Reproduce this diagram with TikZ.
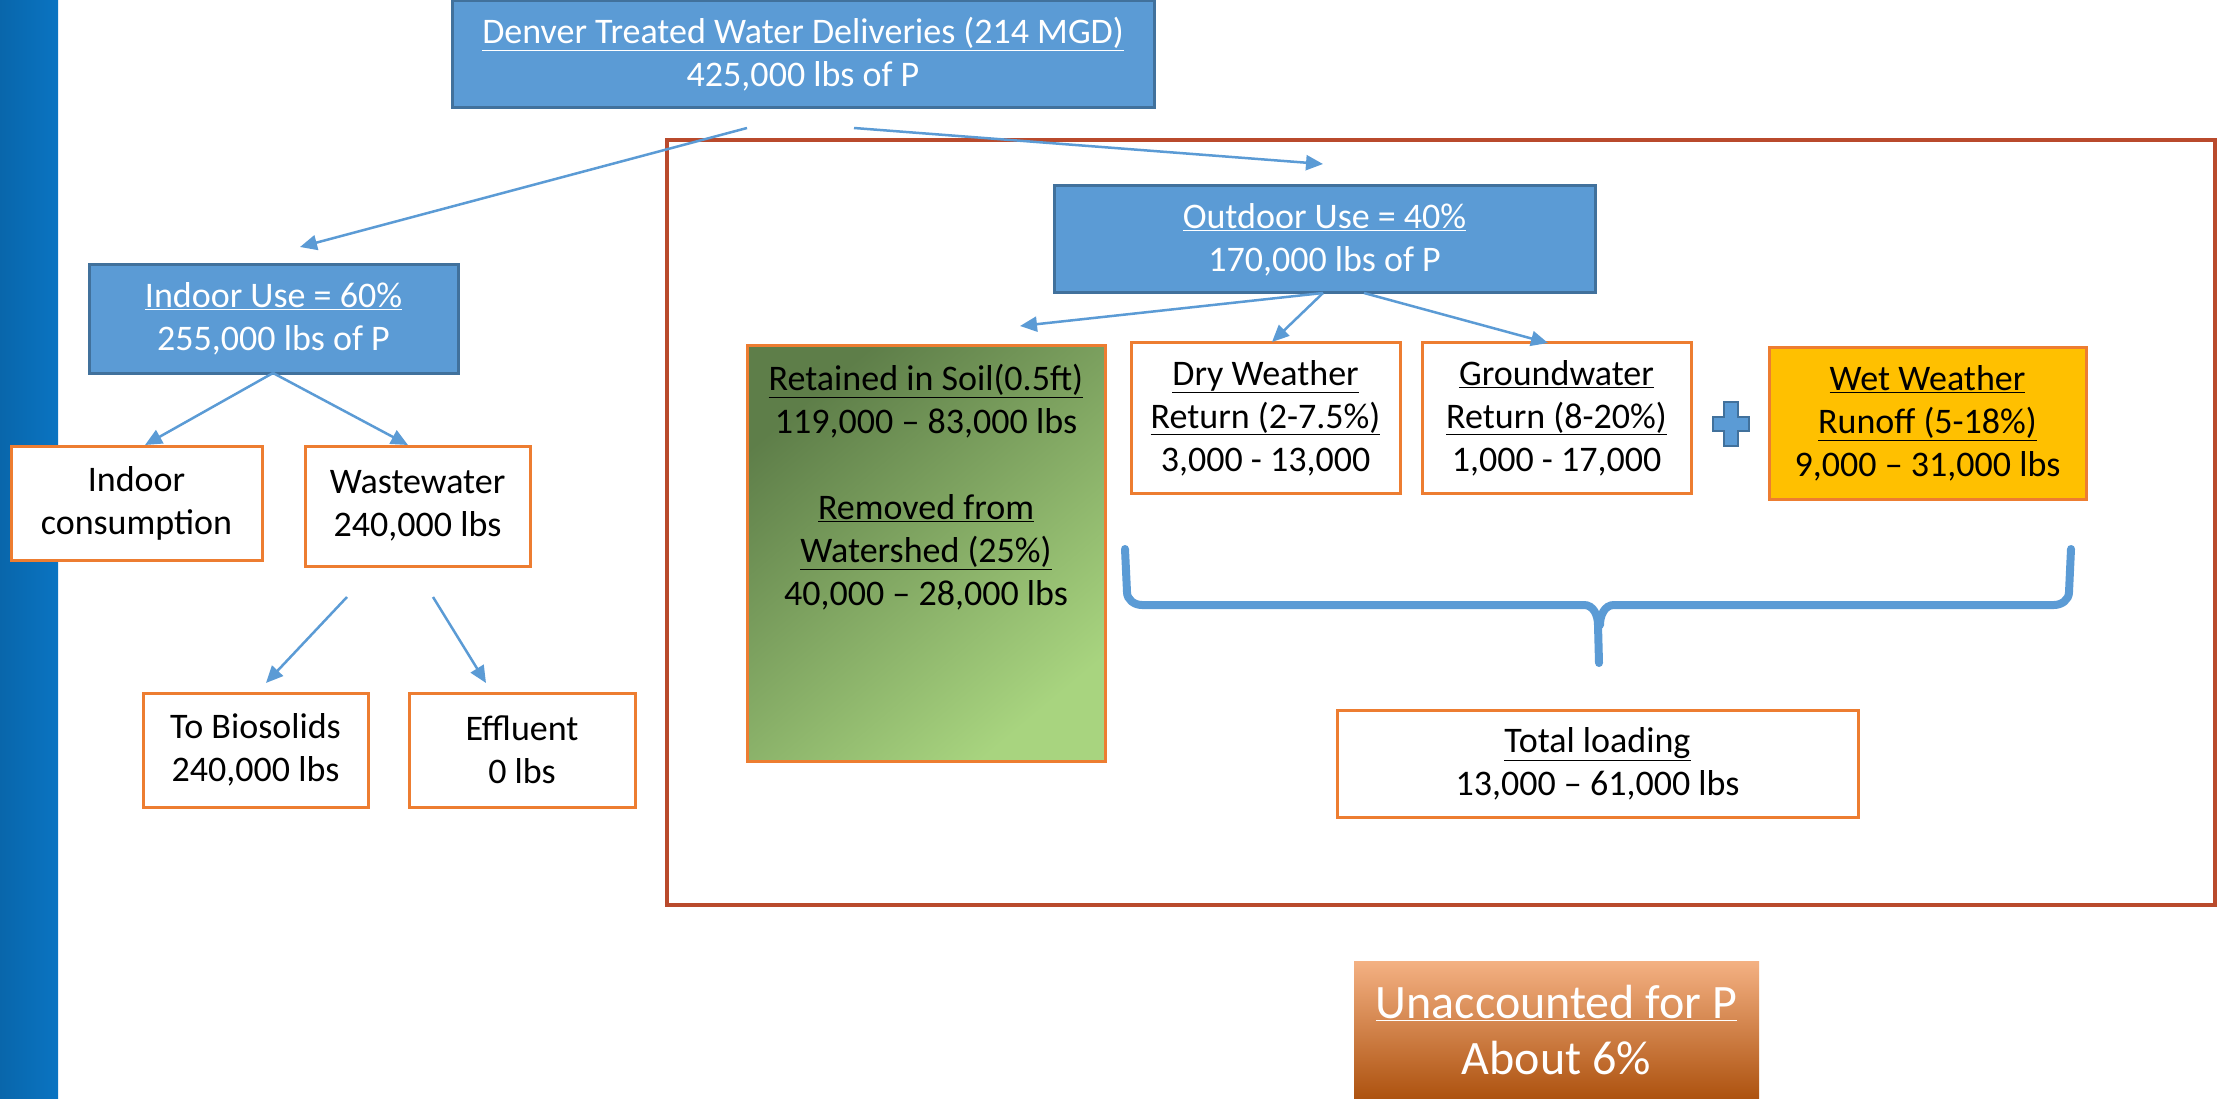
\documentclass[tikz,border=0pt]{standalone}
\usepackage{fontspec}
\setmainfont{Carlito}
\usetikzlibrary{arrows.meta}
\definecolor{boxblue}{HTML}{5B9BD5}
\definecolor{boxedge}{HTML}{41719C}
\definecolor{orangeb}{HTML}{ED7D31}
\definecolor{framered}{HTML}{B94A2C}
\definecolor{wetfill}{HTML}{FFC000}
\definecolor{greendark}{HTML}{5E7E49}
\definecolor{greenlight}{HTML}{A8D47F}
\definecolor{unacctop}{HTML}{F4B183}
\definecolor{unaccbot}{HTML}{AD520F}
\definecolor{stripe}{HTML}{0A74C2}
\begin{document}
\begin{tikzpicture}[x=1pt,y=-1pt,
  txt/.style={align=center, inner sep=0pt, font=\fontsize{36}{43}\selectfont},
  bluebox/.style={txt, draw=boxedge, line width=3pt, fill=boxblue, text=white},
  whitebox/.style={txt, draw=orangeb, line width=3pt, fill=white, text=black},
  flow/.style={draw=boxblue, line width=2.5pt, -{Triangle[length=17pt,width=15pt]}},
  bracestyle/.style={draw=boxblue, line width=8pt, line cap=round}
]
\useasboundingbox (0,0) rectangle (2220,1099);
\fill[white] (0,0) rectangle (2220,1099);
% left stripe
\shade[left color=stripe!88!black, right color=stripe] (0,0) rectangle (58,1099);

% red frame
\draw[framered, line width=4.5pt] (667,140) rectangle (2215,905);

% blue boxes
\node[bluebox, minimum width=702pt, minimum height=107pt] (denver) at (803,54.5)
  {\underline{Denver Treated Water Deliveries (214 MGD)}\\425,000 lbs of P};
\node[bluebox, minimum width=369pt, minimum height=108pt] (indoor) at (273.5,319)
  {\underline{Indoor Use = 60\%}\\255,000 lbs of P};
\node[bluebox, minimum width=541pt, minimum height=107pt] (outdoor) at (1324.5,239.5)
  {\underline{Outdoor Use = 40\%}\\170,000 lbs of P};

% white boxes
\node[whitebox, minimum width=251pt, minimum height=114pt] (indcons) at (136.5,503)
  {Indoor\\consumption};
\node[whitebox, minimum width=225pt, minimum height=120pt] (waste) at (417.5,506)
  {Wastewater\\240,000 lbs};
\node[whitebox, minimum width=225pt, minimum height=114pt] (bio) at (255.5,750)
  {To Biosolids\\240,000 lbs};
\node[whitebox, minimum width=226pt, minimum height=114pt] (effl) at (522,750)
  {Effluent\\0 lbs};
\node[whitebox, minimum width=269pt, minimum height=150pt] (dry) at (1265.5,418)
  {\underline{Dry Weather}\\\underline{Return (2-7.5\%)}\\3,000 - 13,000};
\node[whitebox, minimum width=269pt, minimum height=150pt] (ground) at (1556.5,418)
  {\underline{Groundwater}\\\underline{Return (8-20\%)}\\1,000 - 17,000};
\node[whitebox, fill=wetfill, minimum width=317pt, minimum height=151pt] (wet) at (1927.5,423.5)
  {\underline{Wet Weather}\\\underline{Runoff (5-18\%)}\\9,000 – 31,000 lbs};
\node[whitebox, minimum width=521pt, minimum height=107pt] (total) at (1597.5,763.5)
  {\underline{Total loading}\\13,000 – 61,000 lbs};

% retained box with gradient
\node[draw=orangeb, line width=3pt, shading=axis, top color=greendark, bottom color=greenlight,
  shading angle=40, minimum width=358pt, minimum height=415pt, inner sep=0pt] (retained) at (926,553.5) {};
\node[txt] (rettext) at (926,487.5)
  {\underline{Retained in Soil(0.5ft)}\\119,000 – 83,000 lbs\\[43pt]\underline{Removed from}\\\underline{Watershed (25\%)}\\40,000 – 28,000 lbs};

% unaccounted
\node[inner sep=0pt, shading=axis, top color=unacctop, middle color=orangeb, bottom color=unaccbot,
  minimum width=405pt, minimum height=138pt, text=white, align=center,
  font=\fontsize{48}{56}\selectfont] (unacc) at (1556.5,1030)
  {\underline{Unaccounted for P}\\About 6\%};

% plus sign
\filldraw[fill=boxblue, draw=boxedge, line width=1.5pt]
  (1724,402) -- (1738,402) -- (1738,417) -- (1749,417) -- (1749,431) -- (1738,431)
  -- (1738,446) -- (1724,446) -- (1724,431) -- (1713,431) -- (1713,417) -- (1724,417) -- cycle;

% brace
\draw[bracestyle] (1125,549) -- (1127,592) to[out=-90,in=180] (1142,605) -- (1584,605)
  to[out=0,in=90] (1598,625) -- (1599,663);
\draw[bracestyle] (2071,549) -- (2069,592) to[out=-90,in=0] (2054,605) -- (1614,605)
  to[out=180,in=90] (1600,625);

% arrow endpoints
\coordinate (d1) at (747,128);
\coordinate (d2) at (854,128);
\coordinate (indtip) at (300,247);
\coordinate (outtip) at (1323,164);
\coordinate (ind0) at (273,373);
\coordinate (icTip) at (145,445);
\coordinate (wwTip) at (408,445);
\coordinate (w1) at (347,597);
\coordinate (w2) at (433,597);
\coordinate (bioTip) at (266,683);
\coordinate (efTip) at (486,683);
\coordinate (o1) at (1323,293);
\coordinate (o2) at (1364,293);
\coordinate (retTip) at (1020,326);
\coordinate (dryTip) at (1272,342);
\coordinate (gwTip) at (1548,343);

\draw[flow] (d1) -- (indtip);
\draw[flow] (d2) -- (outtip);
\draw[flow] (ind0) -- (icTip);
\draw[flow] (ind0) -- (wwTip);
\draw[flow] (w1) -- (bioTip);
\draw[flow] (w2) -- (efTip);
\draw[flow] (o1) -- (retTip);
\draw[flow] (o1) -- (dryTip);
\draw[flow] (o2) -- (gwTip);
\end{tikzpicture}
\end{document}
